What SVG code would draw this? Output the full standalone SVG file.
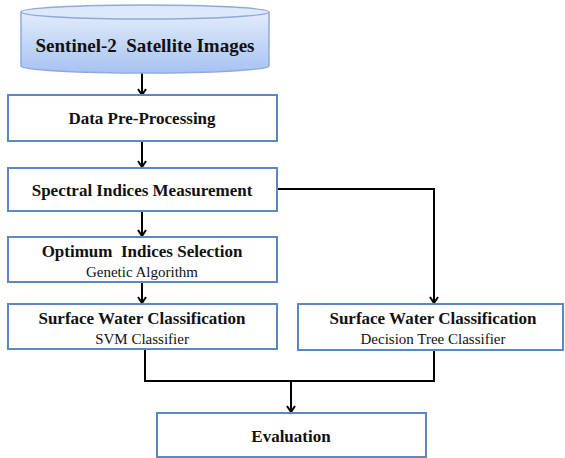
<svg xmlns="http://www.w3.org/2000/svg" width="565" height="458" viewBox="0 0 565 458">
<defs>
<linearGradient id="cyl" x1="0" y1="0" x2="0" y2="1">
<stop offset="0" stop-color="#e3ecfb"/>
<stop offset="1" stop-color="#a7c2f2"/>
</linearGradient>
<marker id="ah" markerWidth="10" markerHeight="10" refX="8" refY="5" orient="auto" markerUnits="userSpaceOnUse" viewBox="0 0 10 10">
<path d="M2,1 L8,5 L2,9" fill="none" stroke="#000" stroke-width="2"/>
</marker>
<style>
.box{fill:#fff;stroke:#5b87c5;stroke-width:2}
.t{font-family:"Liberation Serif",serif;font-weight:bold;font-size:17px;text-anchor:middle;fill:#111}
.s{font-family:"Liberation Serif",serif;font-size:15px;text-anchor:middle;fill:#111}
.c{fill:none;stroke:#000;stroke-width:2}
</style>
</defs>
<g id="connectors">
<line class="c" x1="142" y1="73" x2="142" y2="95" marker-end="url(#ah)"/>
<line class="c" x1="142" y1="141" x2="142" y2="167" marker-end="url(#ah)"/>
<line class="c" x1="142" y1="211" x2="142" y2="236" marker-end="url(#ah)"/>
<line class="c" x1="142" y1="282" x2="142" y2="303" marker-end="url(#ah)"/>
<polyline class="c" points="277,189 434,189 434,303" marker-end="url(#ah)"/>
<polyline class="c" points="145,349 145,381 434,381 434,350"/>
<line class="c" x1="291" y1="381" x2="291" y2="412" marker-end="url(#ah)"/>
</g>
<g id="sentinel">
<path d="M21,12 L21,66 A124,7 0 0 0 269,66 L269,12" fill="url(#cyl)" stroke="#8eaadb" stroke-width="1.5"/>
<ellipse cx="145" cy="12" rx="124" ry="7" fill="#dde8fb" stroke="#8eaadb" stroke-width="1.5"/>
<text class="t" x="145" y="52" style="font-size:19px" xml:space="preserve">Sentinel-2  Satellite Images</text>
</g>
<g id="preprocessing">
<rect class="box" x="8" y="95" width="269" height="46"/>
<text class="t" x="142" y="124">Data Pre-Processing</text>
</g>
<g id="spectral">
<rect class="box" x="8" y="168" width="269" height="43"/>
<text class="t" x="142" y="196">Spectral Indices Measurement</text>
</g>
<g id="optimum">
<rect class="box" x="8" y="237" width="269" height="45"/>
<text class="t" x="142" y="257" xml:space="preserve">Optimum  Indices Selection</text>
<text class="s" x="142" y="277">Genetic Algorithm</text>
</g>
<g id="svm">
<rect class="box" x="8" y="304" width="269" height="45"/>
<text class="t" x="142" y="324">Surface Water Classification</text>
<text class="s" x="142" y="344">SVM Classifier</text>
</g>
<g id="dtree">
<rect class="box" x="298" y="304" width="265" height="46"/>
<text class="t" x="433" y="324">Surface Water Classification</text>
<text class="s" x="433" y="344">Decision Tree Classifier</text>
</g>
<g id="evaluation">
<rect class="box" x="157" y="413" width="269" height="44"/>
<text class="t" x="291" y="442">Evaluation</text>
</g>
</svg>
